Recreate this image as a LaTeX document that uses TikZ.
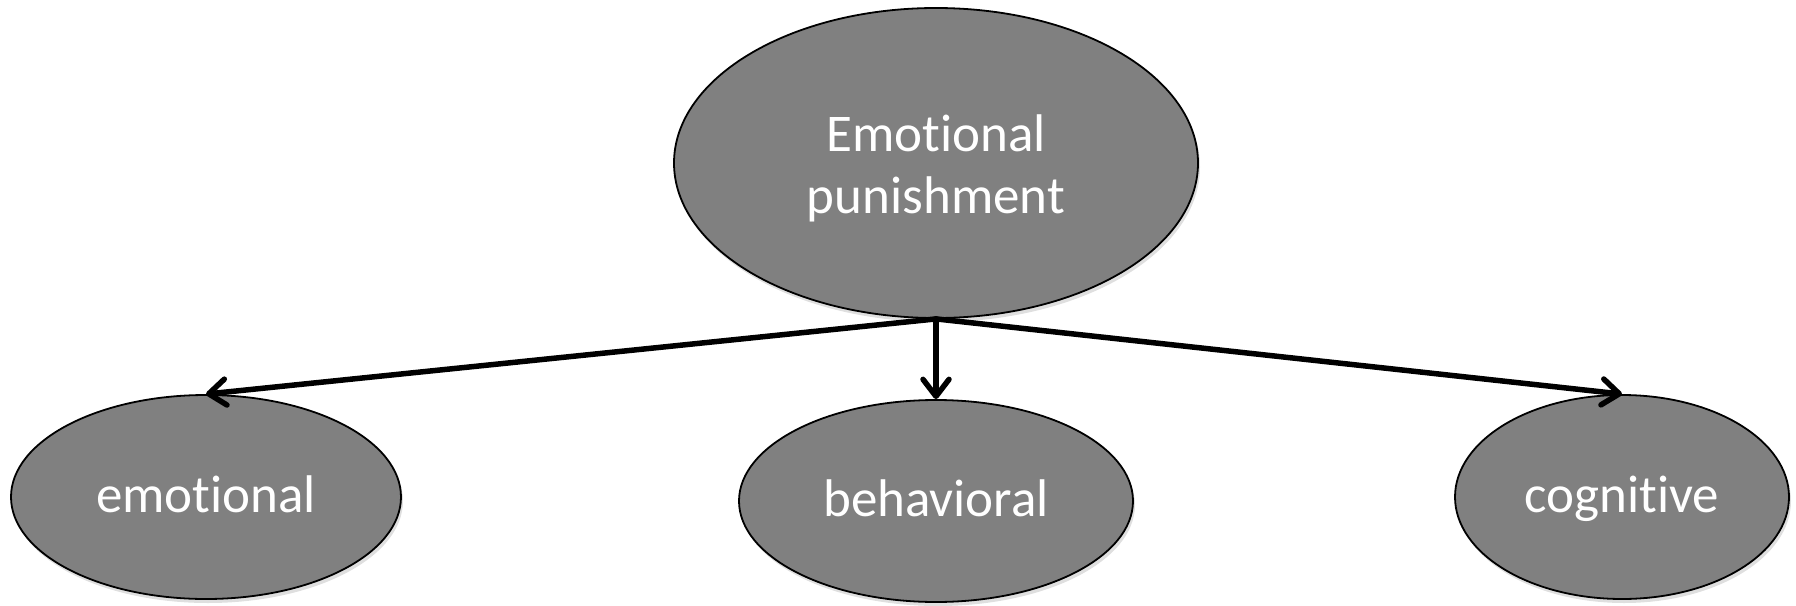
\documentclass[tikz,border=0pt]{standalone}
\usepackage{fontspec}
\setmainfont[Ligatures={NoCommon}]{Carlito}
\usetikzlibrary{arrows.meta,shapes.geometric,shadows}
\newcommand{\capfix}[1][44pt]{\rule{0pt}{#1}}
\newcommand{\descfix}{\rule[-14pt]{0pt}{0pt}}

\tikzset{
	blob/.style={ellipse, draw=black, line width=1.8pt, fill=black!50, text=white,
		font=\fontsize{53}{62}\selectfont, align=center, inner sep=0pt,
		drop shadow={opacity=0.25, shadow xshift=2pt, shadow yshift=-4pt}},
	link/.style={line width=5.5pt, line cap=round, -{Straight Barb[length=17pt, width=26pt, line width=5.5pt, round]}}
}

\begin{document}
\begin{tikzpicture}[x=1pt, y=-1pt]
			%%%%% START %%%%%
			
			\useasboundingbox (0, 0) rectangle (1796, 605);
			
			\node[blob, minimum width=524, minimum height=310] (top) at (936, 163) {\capfix[52pt]Emotional\\punishment\descfix};
			
			\node[blob, minimum width=390, minimum height=204] (emot) at (206, 497) {\capfix emotional\descfix};
			\node[blob, minimum width=394, minimum height=202] (behav) at (936, 501) {\capfix behavioral\descfix};
			\node[blob, minimum width=334, minimum height=204] (cogn) at (1622, 497) {\capfix cognitive\descfix};
			
			\draw[link] (top.south) -- (emot.north);
			\draw[link] (top.south) -- (behav.north);
			\draw[link] (top.south) -- (cogn.north);
			
			%%%%% END %%%%%
\end{tikzpicture}
\end{document}
